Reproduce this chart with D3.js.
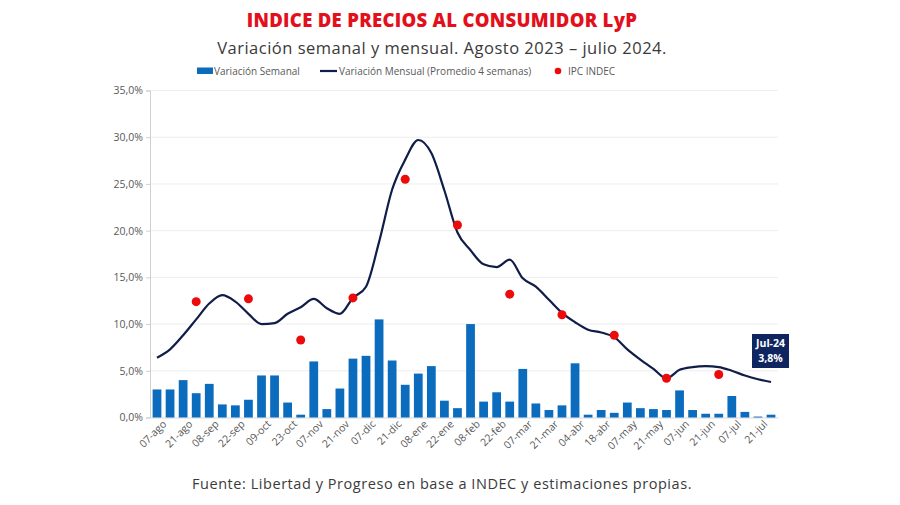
<!DOCTYPE html>
<html>
<head>
<meta charset="utf-8">
<script src="https://cdn.jsdelivr.net/npm/d3@7"></script>
<style>
  html, body { margin: 0; padding: 0; background: #ffffff; }
  svg { display: block; }
</style>
</head>
<body>
<svg id="chart" width="900" height="505"></svg>
<script>
// ---- DATA ----
const weeklyVar = [3.0, 3.0, 4.0, 2.6, 3.6, 1.4, 1.3, 1.9, 4.5, 4.5, 1.6, 0.3,
                   6.0, 0.9, 3.1, 6.3, 6.6, 10.5, 6.1, 3.5, 4.7, 5.5, 1.8, 1.0,
                   10.0, 1.7, 2.7, 1.7, 5.2, 1.5, 0.8, 1.3, 5.8, 0.3, 0.8, 0.5,
                   1.6, 1.0, 0.9, 0.8, 2.9, 0.8, 0.4, 0.4, 2.3, 0.6, 0.1, 0.3];
const monthlyVar = [6.4, 7.3, 8.8, 10.5, 12.2, 13.1, 12.4, 11.1, 10.0, 10.1, 11.1, 11.8,
                    12.7, 11.7, 11.1, 12.8, 14.0, 18.8, 24.4, 27.6, 29.7, 28.3, 24.3, 19.8,
                    17.9, 16.4, 16.1, 16.9, 14.9, 14.0, 12.6, 11.2, 10.2, 9.4, 9.1, 8.6,
                    7.3, 6.2, 5.2, 4.2, 5.1, 5.4, 5.5, 5.4, 5.0, 4.5, 4.1, 3.8];
const tickLabels = ["07-ago", "21-ago", "08-sep", "22-sep", "09-oct", "23-oct", "07-nov", "21-nov",
                    "07-dic", "21-dic", "08-ene", "22-ene", "08-feb", "22-feb", "07-mar", "21-mar",
                    "04-abr", "18-abr", "07-may", "21-may", "07-jun", "21-jun", "07-jul", "21-jul"];
const ipcMonths = ["ago-23", "sep-23", "oct-23", "nov-23", "dic-23", "ene-24", "feb-24", "mar-24", "abr-24", "may-24", "jun-24"];
const ipcValues = [12.4, 12.7, 8.3, 12.8, 25.5, 20.6, 13.2, 11.0, 8.8, 4.2, 4.6];
const ipcWeek = [3, 7, 11, 15, 19, 23, 27, 31, 35, 39, 43];
const yTicks = [0, 5, 10, 15, 20, 25, 30, 35];
const lastLabel = ["Jul-24", "3,8%"];

// ---- CHART ----
const svg = d3.select("#chart");
const pLeft = 150, pRight = 778, pTop = 90.5, pBottom = 417.5;
const weeks = d3.range(weeklyVar.length);

const x = d3.scaleBand().domain(weeks).range([pLeft, pRight]).paddingInner(0.33).paddingOuter(0.2);
const y = d3.scaleLinear().domain([0, 35]).range([pBottom, pTop]);
const xc = i => x(i) + x.bandwidth() / 2;
const fmt = v => d3.format(".1f")(v).replace(".", ",") + "%";

const font = "'Open Sans', 'Noto Sans', sans-serif";
const grey = "#595959";

// Title
svg.append("text").attr("x", 442).attr("y", 27).attr("text-anchor", "middle")
  .style("font-family", font).style("font-weight", 800)
  .style("font-size", "18.5px").style("letter-spacing", "0.3px").attr("fill", "#e3101b")
  .text("INDICE DE PRECIOS AL CONSUMIDOR LyP");
svg.append("text").attr("x", 442).attr("y", 54).attr("text-anchor", "middle")
  .style("font-family", font).style("font-size", "16.5px").style("letter-spacing", "0.5px").attr("fill", "#3a3a3a")
  .text("Variación semanal y mensual. Agosto 2023 – julio 2024.");

// Gridlines
svg.append("g").selectAll("line").data(yTicks.filter(d => d > 0)).join("line")
  .attr("x1", pLeft).attr("x2", pRight).attr("y1", d => y(d)).attr("y2", d => y(d))
  .attr("stroke", "#ededed").attr("stroke-width", 1);

// Y axis
const yAxis = svg.append("g").attr("transform", `translate(${pLeft},0)`)
  .call(d3.axisLeft(y).tickValues(yTicks).tickSize(4).tickPadding(3).tickFormat(fmt));
yAxis.select(".domain").attr("stroke", "#d0d0d0");
yAxis.selectAll(".tick line").attr("stroke", "#d0d0d0");
yAxis.selectAll("text").style("font-family", font).style("font-size", "10.5px").attr("fill", grey);

// X axis
const xAxis = svg.append("g").attr("transform", `translate(0,${pBottom})`)
  .call(d3.axisBottom(x).tickValues(weeks.filter(i => i % 2 === 0)).tickSize(0).tickPadding(6)
    .tickFormat(i => tickLabels[i / 2]));
xAxis.select(".domain").attr("stroke", "#d9d9d9");
xAxis.selectAll("text").style("font-family", font).style("font-size", "10.5px").attr("fill", grey)
  .attr("text-anchor", "end").attr("dx", "0.2em").attr("dy", "0.6em")
  .attr("transform", "rotate(-45)");

// Bars
svg.append("g").selectAll("rect").data(weeklyVar).join("rect")
  .attr("x", (d, i) => x(i)).attr("width", x.bandwidth())
  .attr("y", d => y(d)).attr("height", d => y(0) - y(d))
  .attr("fill", "#0b6bbd");

// Line
const line = d3.line().x((d, i) => xc(i)).y(d => y(d)).curve(d3.curveMonotoneX);
svg.append("path").datum(monthlyVar).attr("d", line)
  .attr("fill", "none").attr("stroke", "#0f1d48").attr("stroke-width", 2.2);

// IPC dots
svg.append("g").selectAll("circle").data(ipcValues).join("circle")
  .attr("cx", (d, i) => xc(ipcWeek[i])).attr("cy", d => y(d)).attr("r", 4.5)
  .attr("fill", "#ec0a0a");

// Annotation box
const lastI = monthlyVar.length - 1;
const bx = xc(lastI) - 19, by = y(monthlyVar[lastI]) - 48;
svg.append("rect").attr("x", bx).attr("y", by).attr("width", 37).attr("height", 34).attr("fill", "#0f2560");
svg.append("text").attr("x", bx + 18.5).attr("y", by + 13).attr("text-anchor", "middle")
  .style("font-family", font).style("font-weight", 700).style("font-size", "10.5px").attr("fill", "#fff")
  .text(lastLabel[0]);
svg.append("text").attr("x", bx + 18.5).attr("y", by + 28).attr("text-anchor", "middle")
  .style("font-family", font).style("font-weight", 700).style("font-size", "10.5px").attr("fill", "#fff")
  .text(lastLabel[1]);

// Legend
const lg = svg.append("g").style("font-family", font).style("font-size", "10px").attr("fill", grey);
lg.append("rect").attr("x", 197).attr("y", 67.5).attr("width", 16).attr("height", 6.5).attr("fill", "#0b6bbd");
lg.append("text").attr("x", 214).attr("y", 74.5).text("Variación Semanal");
lg.append("line").attr("x1", 320).attr("x2", 337).attr("y1", 71).attr("y2", 71).attr("stroke", "#0f1d48").attr("stroke-width", 2.2);
lg.append("text").attr("x", 339).attr("y", 74.5).text("Variación Mensual (Promedio 4 semanas)");
lg.append("circle").attr("cx", 558).attr("cy", 71).attr("r", 3.3).attr("fill", "#ec0a0a");
lg.append("text").attr("x", 568).attr("y", 74.5).text("IPC INDEC");

// Footer
svg.append("text").attr("x", 442).attr("y", 489).attr("text-anchor", "middle")
  .style("font-family", font).style("font-size", "14.5px").style("letter-spacing", "0.55px").attr("fill", "#3a3a3a")
  .text("Fuente: Libertad y Progreso en base a INDEC y estimaciones propias.");
</script>
</body>
</html>
